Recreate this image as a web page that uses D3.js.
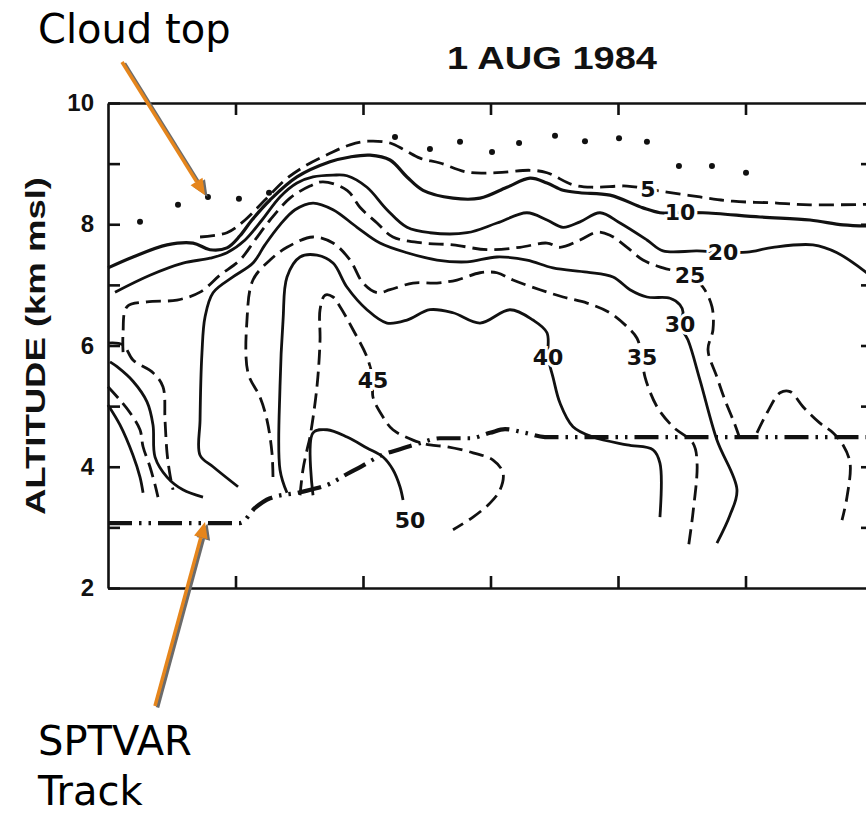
<!DOCTYPE html>
<html>
<head>
<meta charset="utf-8">
<script src="https://cdn.jsdelivr.net/npm/d3@7"></script>
<style>
  body { margin: 0; background: #fff; }
  svg { display: block; }
</style>
</head>
<body>
<div id="chart"></div>
<script>
// axis ticks (x = horizontal distance, y = altitude km msl)
const xTicks = [10, 20, 30, 40, 50];
const yTicks = [2, 3, 4, 5, 6, 7, 8, 9, 10];
const yRightTicks = [3, 4, 5, 6, 7, 8, 9];

// cloud top (dotted)
const cloudTop = [[2.51,8.04],[5.49,8.32],[7.84,8.45],[10.27,8.42],[12.63,8.52],[22.51,9.44],[25.25,9.24],[27.61,9.36],[30.12,9.19],[32.24,9.34],[35.06,9.46],[37.41,9.37],[40.08,9.42],[42.27,9.36],[44.78,8.96],[47.37,8.96],[50.04,8.85]];

// SPTVAR aircraft track (dash-dot)
const track = [[0,3.07],[10.35,3.07],[11.53,3.32],[12.71,3.48],[15.06,3.58],[17.41,3.72],[18.75,3.88],[19.92,4.01],[21.33,4.18],[22.9,4.29],[24.47,4.39],[26.04,4.47],[28.39,4.47],[29.96,4.56],[31.14,4.62],[32.71,4.56],[34.27,4.49],[59.76,4.49]];

// reflectivity contours (dBZ)
const c05 = [[7.22,7.79],[9.33,7.86],[10.75,8.07],[12.31,8.4],[13.88,8.73],[15.45,8.96],[17.41,9.17],[18.98,9.31],[20.39,9.37],[22.12,9.34],[23.29,9.22],[24.47,9.09],[26.04,9.01],[28.16,8.86],[30.51,8.85],[33.1,8.89],[34.43,8.85],[36.47,8.65],[38.04,8.61],[40.71,8.63],[42.35,8.58],[43.84,8.53],[46.43,8.45],[49.02,8.38],[52.47,8.35],[55.06,8.32],[59.76,8.33]];
const c10 = [[0,7.28],[1.96,7.46],[4.63,7.66],[6.67,7.69],[8,7.58],[9.33,7.61],[10.35,7.81],[11.29,8.07],[12.71,8.4],[14.82,8.78],[17.41,9.03],[18.98,9.11],[20.55,9.14],[22.12,9.06],[23.45,8.78],[24.71,8.56],[27.06,8.43],[29.18,8.43],[31.29,8.61],[33.1,8.76],[34.43,8.68],[35.69,8.56],[37.02,8.52],[39.37,8.48],[41.96,8.27],[43.29,8.19],[44.86,8.19],[46.67,8.19],[51.14,8.12],[55.06,8.07],[57.65,7.99],[59.76,7.97]];
const c20 = [[0.55,6.88],[3.29,7.16],[5.88,7.36],[8,7.44],[9.33,7.53],[10.75,7.74],[12.08,8.07],[13.49,8.45],[14.82,8.68],[16.08,8.78],[17.65,8.81],[18.75,8.8],[20.31,8.61],[21.88,8.24],[23.45,7.95],[25.25,7.86],[28.16,7.86],[30.51,8.02],[32.86,8.19],[34.43,8.07],[35.69,7.95],[37.02,8.04],[38.59,8.19],[40.16,8.02],[42.27,7.74],[43.53,7.56],[46.2,7.56],[48.24,7.54],[50.12,7.54],[52.16,7.62],[55.29,7.66],[57.18,7.53],[59.76,7.16]];
const c25 = [[1.18,5.89],[1.18,6.21],[1.49,6.64],[3.06,6.72],[5.41,6.75],[7.22,6.88],[8.78,7.16],[10.35,7.41],[11.53,7.74],[12.71,8.07],[14.27,8.43],[15.84,8.63],[16.86,8.7],[18.75,8.56],[19.76,8.28],[21.1,8.02],[22.35,7.79],[24.71,7.69],[27.06,7.66],[29.73,7.58],[32.31,7.62],[34.43,7.69],[35.45,7.62],[37.02,7.74],[38.35,7.87],[39.37,7.82],[40.71,7.62],[41.96,7.41],[43.53,7.28],[45.65,7.16],[46.67,6.96],[47.37,6.64],[47.45,6.26],[47.06,5.93],[47.76,5.48],[48.39,5.1],[49.18,4.69],[49.73,4.36]];
const c30 = [[10.2,3.67],[8.24,4],[7.22,4.19],[7.22,4.77],[7.37,5.88],[7.61,6.47],[8.24,6.87],[9.8,7.13],[11.37,7.36],[12.31,7.66],[13.49,7.99],[14.67,8.24],[16.08,8.35],[17.65,8.24],[19.53,7.95],[21.33,7.69],[23.45,7.53],[25.8,7.41],[28.16,7.38],[30.51,7.46],[32.86,7.41],[34.9,7.28],[37.57,7.21],[39.61,7.13],[40.94,6.92],[42.27,6.8],[44.08,6.78],[44.86,6.67],[45.1,6.55],[44.86,6.34],[45.49,6.09],[46.43,5.43],[47.76,4.44],[49.33,3.62],[48.78,3.2],[47.76,2.74]];
const c35 = [[12.94,3.83],[12.86,4.23],[12.47,4.77],[11.92,5.15],[10.98,5.55],[10.9,6.42],[11.37,7.08],[12.71,7.41],[14.04,7.62],[16.08,7.79],[17.65,7.69],[18.98,7.41],[20,7.03],[21.1,6.87],[22.12,6.92],[23.92,7.03],[25.8,7.03],[27.37,7.08],[29.18,7.2],[30.51,7.2],[31.76,7.08],[33.88,6.92],[35.69,6.8],[37.57,6.7],[39.37,6.54],[40.71,6.31],[41.49,6.12],[41.88,5.81],[42.12,5.48],[43.06,4.99],[44.31,4.66],[45.88,4.39],[46.2,4.06],[45.88,3.24],[45.49,2.63]];
const c40 = [[14.04,3.57],[13.49,3.95],[13.49,5.32],[13.73,6.42],[14.04,7.13],[15.06,7.46],[16.39,7.49],[17.65,7.36],[18.75,6.96],[20.31,6.59],[21.88,6.37],[23.45,6.42],[25.25,6.59],[27.06,6.54],[29.18,6.37],[31.53,6.59],[33.33,6.42],[34.43,6.21],[34.51,5.81],[34.9,5.48],[35.45,5.05],[36.47,4.66],[38.04,4.49],[40.71,4.36],[42.75,4.28],[43.29,4.06],[43.29,3.17]];
const c45 = [[15.06,3.53],[15.29,3.95],[15.61,4.28],[15.84,4.49],[16.39,5.32],[16.63,6.09],[16.63,6.59],[17.02,6.83],[17.65,6.8],[18.2,6.64],[19.22,6.26],[20.31,5.81],[20.78,5.43],[20.78,5.15],[21.57,4.82],[22.35,4.61],[23.92,4.44],[25.25,4.36],[26.59,4.33],[28.63,4.23],[30.2,4.11],[30.98,3.9],[30.75,3.62],[29.96,3.4],[28.63,3.17],[27.06,2.96]];
const c50 = [[16.08,3.53],[16.08,4.56],[17.18,4.61],[18.75,4.49],[20.31,4.31],[21.57,4.16],[22.35,3.95],[22.9,3.67],[23.14,3.45]];

// fragments along the left edge and the small cell on the right
const edge1 = [[0,6.04],[1.18,6.01],[1.96,5.76],[3.53,5.55],[4.31,5.32],[4.47,4.77],[4.63,4.23],[4.86,3.87],[5.1,3.62]];
const edge2 = [[0.16,5.73],[0.71,5.65],[1.96,5.41],[3.06,5.07],[3.53,4.69],[3.69,4.16],[4.63,3.83],[5.88,3.62],[7.45,3.5]];
const edge3 = [[0,5.32],[0.94,5.1],[1.73,4.89],[2.51,4.61],[2.75,4.33],[3.29,4],[3.69,3.7],[3.92,3.5]];
const edge4 = [[0,5.02],[0.94,4.69],[1.96,4.19],[2.51,3.83],[2.75,3.57]];
const bump = [[50.9,4.56],[51.69,4.89],[52.71,5.22],[53.49,5.24],[54.51,4.99],[55.84,4.72],[56.86,4.56],[57.65,4.36],[58.2,4.06],[57.96,3.5],[57.57,3.12]];

const contours = [
  { pts: c05, dashed: true },
  { pts: c10, dashed: false, w: 3.2 },
  { pts: c20, dashed: false },
  { pts: c25, dashed: true },
  { pts: c30, dashed: false },
  { pts: c35, dashed: true },
  { pts: c40, dashed: false },
  { pts: c45, dashed: true },
  { pts: c50, dashed: false },
  { pts: edge1, dashed: true },
  { pts: edge2, dashed: false },
  { pts: edge3, dashed: true },
  { pts: edge4, dashed: false },
  { pts: bump, dashed: true }
];

const contourLabels = [
  { text: "5",  at: [42.35, 8.58] },
  { text: "10", at: [44.86, 8.19] },
  { text: "20", at: [48.24, 7.54] },
  { text: "25", at: [45.65, 7.15] },
  { text: "30", at: [44.86, 6.34] },
  { text: "35", at: [41.88, 5.81] },
  { text: "40", at: [34.51, 5.81] },
  { text: "45", at: [20.78, 5.43] },
  { text: "50", at: [23.69, 3.12] }
];

// orange call-outs: tail in page pixels, tip at a data point
const callouts = [
  { text: ["Cloud top"], textAt: [38, 43], tail: [122, 62], tip: [7.61, 8.48] },
  { text: ["SPTVAR", "Track"], textAt: [38, 755], tail: [155, 706], tip: [7.61, 3.09] }
];

const width = 866, height = 816;
const x = d3.scaleLinear().domain([0, 60]).range([108, 873]);
const y = d3.scaleLinear().domain([2, 10]).range([588, 103]);

const svg = d3.select("#chart").append("svg")
  .attr("width", width).attr("height", height)
  .style("background", "#fff");

const line = d3.line()
  .x(d => x(d[0])).y(d => y(d[1]))
  .curve(d3.curveCatmullRom.alpha(0.5));

// frame / axes
const ink = "#111";
function styleAxis(g) {
  g.selectAll("path, line").attr("stroke", ink).attr("stroke-width", 2.6);
  g.selectAll("text").attr("fill", ink);
}
svg.append("g").attr("transform", `translate(${x(0)},0)`)
  .call(d3.axisLeft(y).tickValues(yTicks).tickSize(-12).tickSizeOuter(0).tickPadding(14)
    .tickFormat(d => d % 2 === 0 ? d : ""))
  .call(styleAxis)
  .call(g => g.selectAll("text")
    .attr("font-family", "Liberation Sans, Arial, sans-serif")
    .attr("font-weight", "bold").attr("font-size", 24));
svg.append("g").attr("transform", `translate(0,${y(10)})`)
  .call(d3.axisTop(x).tickValues(xTicks).tickSize(-12).tickSizeOuter(0).tickFormat(""))
  .call(styleAxis);
svg.append("g").attr("transform", `translate(0,${y(2)})`)
  .call(d3.axisBottom(x).tickValues(xTicks).tickSize(-12).tickSizeOuter(0).tickFormat(""))
  .call(styleAxis);
svg.append("g").attr("transform", `translate(${x(60)},0)`)
  .call(d3.axisRight(y).tickValues(yRightTicks).tickSize(-12).tickSizeOuter(0).tickFormat(""))
  .call(styleAxis);

// contours
svg.append("g").selectAll("path")
  .data(contours)
  .join("path")
  .attr("d", d => line(d.pts))
  .attr("fill", "none")
  .attr("stroke", ink)
  .attr("stroke-width", d => d.w || 2.8)
  .attr("stroke-dasharray", d => d.dashed ? "15,7" : null);

// aircraft track
svg.append("path")
  .attr("d", d3.line().x(d => x(d[0])).y(d => y(d[1])).curve(d3.curveMonotoneX)(track))
  .attr("fill", "none")
  .attr("stroke", ink)
  .attr("stroke-width", 4.2)
  .attr("stroke-dasharray", "24,7,2.5,7,2.5,7");

// cloud top dots
svg.append("g").selectAll("circle")
  .data(cloudTop)
  .join("circle")
  .attr("cx", d => x(d[0])).attr("cy", d => y(d[1]))
  .attr("r", 3).attr("fill", ink);

// contour labels with a white halo
svg.append("g").selectAll("text")
  .data(contourLabels)
  .join("text")
  .attr("x", d => x(d.at[0])).attr("y", d => y(d.at[1]))
  .attr("text-anchor", "middle").attr("dominant-baseline", "central")
  .attr("font-family", "DejaVu Sans, sans-serif").attr("font-size", 22)
  .attr("font-weight", "bold")
  .attr("stroke", "#fff").attr("stroke-width", 6).attr("paint-order", "stroke")
  .attr("fill", ink)
  .text(d => d.text);

// title and y axis label
svg.append("text")
  .attr("x", 552).attr("y", 69)
  .attr("text-anchor", "middle")
  .attr("font-family", "Liberation Sans, Arial, sans-serif")
  .attr("font-weight", "bold").attr("font-size", 32)
  .attr("textLength", 210).attr("lengthAdjust", "spacingAndGlyphs")
  .attr("fill", ink)
  .text("1 AUG 1984");

svg.append("text")
  .attr("transform", "translate(45,346) rotate(-90)")
  .attr("text-anchor", "middle")
  .attr("font-family", "Liberation Sans, Arial, sans-serif")
  .attr("font-weight", "bold").attr("font-size", 28)
  .attr("textLength", 338).attr("lengthAdjust", "spacingAndGlyphs")
  .attr("fill", ink)
  .text("ALTITUDE (km msl)");

// call-out arrows
const orange = "#e5851c";
function arrow(g, x1, y1, x2, y2, color, dx, dy) {
  const a = Math.atan2(y2 - y1, x2 - x1), len = 16, half = 7;
  const bx = x2 - len * Math.cos(a), by = y2 - len * Math.sin(a);
  g.append("line")
    .attr("x1", x1 + dx).attr("y1", y1 + dy).attr("x2", bx + dx).attr("y2", by + dy)
    .attr("stroke", color).attr("stroke-width", 3.5);
  const pts = [
    [x2, y2],
    [bx + half * Math.sin(a), by - half * Math.cos(a)],
    [bx - half * Math.sin(a), by + half * Math.cos(a)]
  ].map(p => [p[0] + dx, p[1] + dy]);
  g.append("polygon").attr("points", pts.map(p => p.join(",")).join(" ")).attr("fill", color);
}
callouts.forEach(c => {
  const g = svg.append("g");
  const tx = x(c.tip[0]), ty = y(c.tip[1]);
  arrow(g, c.tail[0], c.tail[1], tx, ty, "#6b6b6b", 2.5, 1.5);
  arrow(g, c.tail[0], c.tail[1], tx, ty, orange, 0, 0);
  const t = svg.append("text")
    .attr("x", c.textAt[0]).attr("y", c.textAt[1])
    .attr("font-family", "DejaVu Sans, sans-serif").attr("font-size", 40)
    .attr("fill", "#000");
  c.text.forEach((s, i) => t.append("tspan").attr("x", c.textAt[0]).attr("dy", i ? 50 : 0).text(s));
});
</script>
</body>
</html>
